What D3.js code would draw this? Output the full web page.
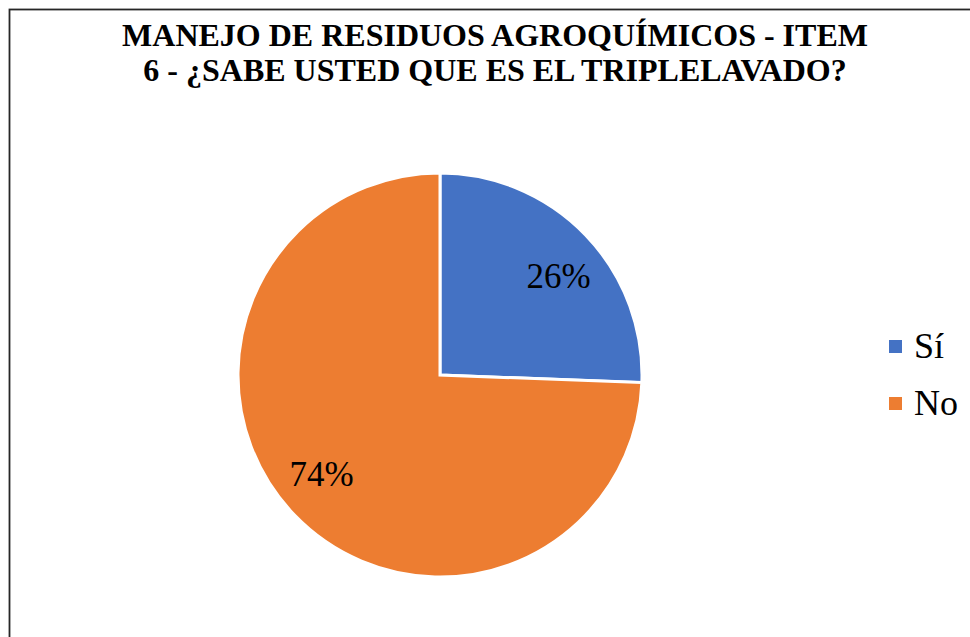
<!DOCTYPE html>
<html><head><meta charset="utf-8">
<script src="https://cdn.jsdelivr.net/npm/d3@7"></script>
<style>body{margin:0;background:#fff}svg{display:block}</style>
</head><body><svg id="c" width="970" height="637"></svg>
<script>
const categories = ["Sí", "No"];
const values = [25.6, 74.4];
const colors = ["#4472C4", "#ED7D31"];
const titleLines = ["MANEJO DE RESIDUOS AGROQUÍMICOS - ITEM", "6 - ¿SABE USTED QUE ES EL TRIPLELAVADO?"];
const FONT = "'Liberation Serif', 'Times New Roman', serif";

const svg = d3.select("#c");
svg.append("rect").attr("x", 9.5).attr("y", 9.5).attr("width", 1000).attr("height", 700)
  .attr("fill", "#fff").attr("stroke", "#262626").attr("stroke-width", 1.8);

svg.append("g").selectAll("text").data(titleLines).join("text")
  .attr("x", 495).attr("y", (d, i) => 46 + i * 35)
  .attr("text-anchor", "middle")
  .style("font-family", FONT)
  .attr("font-weight", "bold").attr("font-size", 32).attr("fill", "#000")
  .text(d => d);

const cx = 440, cy = 375, r = 202;
const data = categories.map((c, i) => ({cat: c, value: values[i], color: colors[i]}));
const total = d3.sum(values);
const pie = d3.pie().value(d => d.value).sort(null);
const arc = d3.arc().innerRadius(0).outerRadius(r);
const arcs = pie(data);
const g = svg.append("g").attr("transform", `translate(${cx},${cy})`);
g.selectAll("path").data(arcs).join("path")
  .attr("d", arc).attr("fill", d => d.data.color)
  .attr("stroke", "#fff").attr("stroke-width", 3).attr("stroke-linejoin", "miter");

const fmt = d3.format(".0%");
const lr = r * 0.765, shift = 0.07;
g.selectAll("text").data(arcs).join("text")
  .attr("transform", d => {
    const a = (d.startAngle + d.endAngle) / 2 + shift;
    return `translate(${lr * Math.sin(a)},${-lr * Math.cos(a)})`;
  })
  .attr("text-anchor", "middle").attr("dy", "0.35em")
  .style("font-family", FONT)
  .attr("font-size", 35).attr("fill", "#000")
  .text(d => fmt(d.data.value / total));

const leg = svg.append("g").selectAll("g").data(data).join("g")
  .attr("transform", (d, i) => `translate(889,${340 + i * 57})`);
leg.append("rect").attr("width", 13).attr("height", 13).attr("fill", d => d.color);
leg.append("text").attr("x", 25).attr("y", 18)
  .style("font-family", FONT)
  .attr("font-size", 36).attr("fill", "#000").text(d => d.cat);
</script></body></html>
